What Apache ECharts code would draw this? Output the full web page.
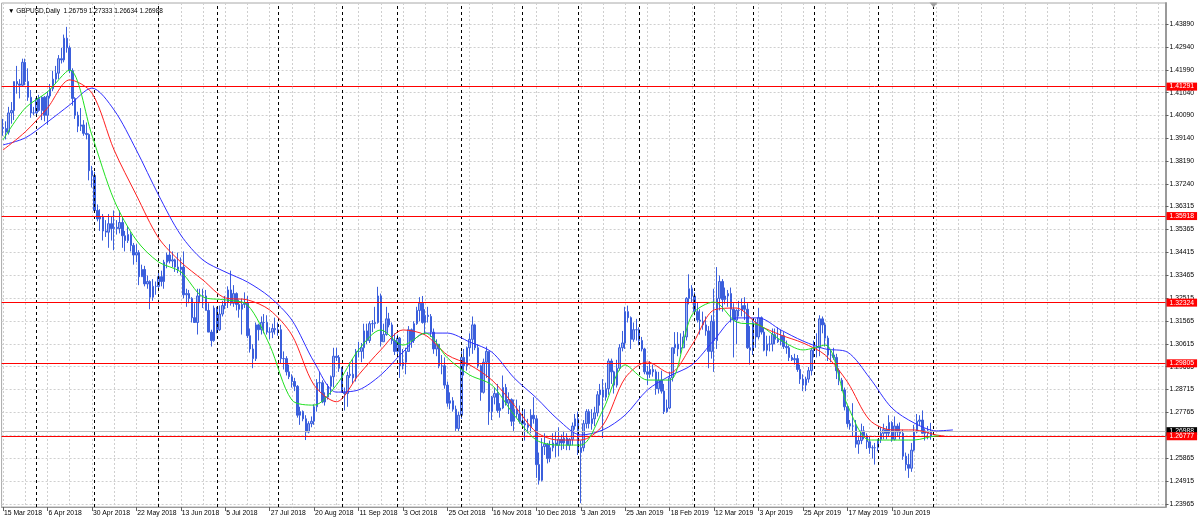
<!DOCTYPE html>
<html><head><meta charset="utf-8">
<script src="https://cdn.jsdelivr.net/npm/echarts@6/dist/echarts.min.js"></script>
<style>html,body{margin:0;padding:0;background:#fff}#c{width:1200px;height:523px}</style>
</head><body><div id="c"></div>
<script>
const symbolTitle = '\u25BC GBPUSD,Daily  1.26759 1.27333 1.26634 1.26988';
const startDate = '2018-03-15';
const holidays = ['2018-12-25', '2019-01-01'];
const opens = [
1.3960,1.3955,1.3940,1.4020,1.4030,1.4150,1.4140,1.4135,1.4230,1.4150,1.4085,1.4020,
1.4020,1.4080,1.4030,1.4085,1.4010,1.4090,1.4120,1.4160,1.4185,1.4245,1.4240,1.4330,1.4290,1.4195,1.4080,1.4010,1.3965,1.3970,1.3935,1.3930,1.3780,
1.3760,1.3615,1.3580,1.3590,1.3530,1.3525,1.3560,1.3540,1.3545,1.3540,1.3565,1.3510,1.3490,1.3515,1.3470,1.3430,1.3440,1.3340,1.3370,1.3310,1.3320,1.3255,1.3300,
1.3300,1.3340,1.3320,1.3400,1.3430,1.3405,1.3410,1.3380,1.3370,1.3380,1.3265,1.3270,1.3250,1.3170,1.3150,1.3260,1.3260,1.3260,1.3200,1.3110,1.3075,
1.3210,1.3120,1.3185,1.3220,1.3235,1.3285,1.3230,1.3270,1.3225,1.3205,1.3225,1.3230,1.3095,1.3040,1.3000,1.3140,1.3120,1.3150,1.3150,1.3110,1.3110,1.3125,
1.3120,1.3120,1.3000,1.3000,1.2945,1.2925,1.2905,1.2885,1.2765,1.2780,1.2750,1.2695,1.2730,1.2740,1.2800,1.2900,1.2900,1.2820,1.2840,1.2885,1.2925,1.3010,1.3005,
1.2960,1.2860,1.2855,1.2930,1.2935,1.2920,1.3030,1.3030,1.3045,1.3115,1.3075,1.3145,1.3145,1.3150,1.3260,1.3070,1.3100,1.3165,1.3140,1.3075,
1.3030,1.3085,1.2970,1.2985,1.3030,1.3120,1.3075,1.3145,1.3200,1.3230,1.3150,1.3180,1.3175,1.3110,1.3040,1.3060,1.2970,1.2970,1.2890,1.2815,1.2825,1.2790,1.2710,
1.2765,1.3005,1.2970,1.3045,1.3080,1.3140,1.3045,1.2970,1.2860,1.2985,1.3030,1.2780,1.2840,1.2855,1.2785,1.2795,1.2880,1.2815,1.2830,1.2740,1.2790,1.2770,
1.2740,1.2730,1.2725,1.2715,1.2765,1.2750,1.2560,1.2495,1.2635,1.2645,1.2585,1.2630,1.2650,1.2640,1.2665,1.2650,1.2670,1.2640,1.2665,1.2720,
1.2750,1.2610,1.2630,1.2730,1.2780,1.2730,1.2750,1.2775,1.2850,1.2870,1.2840,1.2875,1.2990,1.2945,1.2890,1.2960,1.3045,1.3065,1.3195,1.3170,1.3080,1.3120,
1.3120,1.3075,1.3040,1.2945,1.2935,1.2955,1.2945,1.2875,1.2910,1.2865,1.2780,1.2795,1.2920,1.3045,1.3060,1.3040,1.3045,1.3090,1.3250,1.3290,
1.3260,1.3195,1.3160,1.3155,1.3140,1.3115,1.3030,1.3155,1.3075,1.3250,1.3320,1.3245,1.3260,1.3270,1.3205,1.3160,1.3200,1.3200,1.3220,1.3205,1.3045,
1.3035,1.3150,1.3090,1.3170,1.3110,1.3035,1.3060,1.3060,1.3100,1.3080,1.3070,1.3095,1.3050,1.3045,1.3005,1.2995,1.3000,1.2955,1.2915,1.2890,1.2915,1.2950,
1.3035,1.3050,1.3045,1.3165,1.3140,1.3085,1.3015,1.3015,1.3005,1.2950,1.2910,1.2870,1.2800,1.2730,1.2720,1.2720,1.2645,1.2660,1.2700,1.2680,1.2655,1.2630,1.2630,
1.2630,1.2665,1.2690,1.2705,1.2690,1.2735,1.2665,1.2720,1.2695,1.2690,1.2595,1.2560,1.2545,1.2620,1.2695,1.2740,1.2745,1.2690,1.2700,1.26759];
const highs = [
1.3995,1.3985,1.4045,1.4065,1.4150,1.4215,1.4160,1.4245,1.4245,1.4205,1.4115,1.4045,
1.4085,1.4095,1.4090,1.4090,1.4110,1.4140,1.4195,1.4215,1.4260,1.4290,1.4345,1.4377,1.4300,1.4205,1.4085,1.4025,1.4040,1.3990,1.3980,1.3935,1.3800,
1.3775,1.3640,1.3620,1.3600,1.3575,1.3600,1.3590,1.3615,1.3575,1.3615,1.3585,1.3530,1.3550,1.3525,1.3480,1.3475,1.3450,1.3390,1.3385,1.3345,1.3325,1.3330,1.3320,
1.3365,1.3365,1.3410,1.3440,1.3475,1.3445,1.3415,1.3440,1.3420,1.3445,1.3290,1.3285,1.3255,1.3230,1.3290,1.3290,1.3290,1.3285,1.3230,1.3120,1.3220,
1.3215,1.3220,1.3240,1.3260,1.3300,1.3365,1.3305,1.3275,1.3245,1.3250,1.3275,1.3260,1.3125,1.3060,1.3150,1.3145,1.3175,1.3185,1.3180,1.3130,1.3145,1.3170,
1.3150,1.3140,1.3030,1.3010,1.2975,1.2935,1.2920,1.2890,1.2800,1.2785,1.2765,1.2740,1.2760,1.2810,1.2915,1.2945,1.2910,1.2860,1.2895,1.2930,1.3045,1.3045,1.3015,
1.2965,1.2880,1.2945,1.2985,1.3000,1.3040,1.3070,1.3065,1.3145,1.3145,1.3155,1.3160,1.3215,1.3298,1.3270,1.3145,1.3215,1.3190,1.3150,1.3105,
1.3100,1.3090,1.3040,1.3045,1.3135,1.3125,1.3155,1.3215,1.3255,1.3260,1.3205,1.3215,1.3185,1.3125,1.3080,1.3060,1.3015,1.3005,1.2905,1.2860,1.2840,1.2805,1.2780,
1.3030,1.3040,1.3050,1.3105,1.3175,1.3145,1.3060,1.2975,1.3000,1.3050,1.3030,1.2845,1.2880,1.2895,1.2815,1.2930,1.2895,1.2860,1.2835,1.2830,1.2830,1.2805,
1.2795,1.2790,1.2750,1.2790,1.2840,1.2765,1.2610,1.2670,1.2690,1.2650,1.2660,1.2690,1.2700,1.2715,1.2685,1.2700,1.2690,1.2670,1.2735,1.2770,
1.2780,1.2660,1.2745,1.2790,1.2790,1.2790,1.2800,1.2865,1.2895,1.2915,1.2900,1.3000,1.3000,1.2950,1.2995,1.3060,1.3115,1.3215,1.3220,1.3175,1.3150,1.3165,
1.3130,1.3090,1.3045,1.2970,1.2990,1.2975,1.2955,1.2945,1.2950,1.2895,1.2830,1.2945,1.3045,1.3110,1.3110,1.3105,1.3115,1.3255,1.3350,1.3305,
1.3275,1.3235,1.3205,1.3195,1.3175,1.3135,1.3180,1.3290,1.3380,1.3345,1.3330,1.3295,1.3285,1.3295,1.3230,1.3205,1.3240,1.3250,1.3255,1.3230,1.3135,
1.3165,1.3165,1.3210,1.3175,1.3130,1.3095,1.3095,1.3125,1.3125,1.3130,1.3120,1.3110,1.3075,1.3055,1.3015,1.3020,1.3015,1.2975,1.2935,1.2925,1.2965,1.3045,
1.3075,1.3105,1.3180,1.3175,1.3150,1.3095,1.3035,1.3045,1.3020,1.2960,1.2920,1.2880,1.2805,1.2745,1.2815,1.2745,1.2680,1.2730,1.2720,1.2690,1.2675,1.2640,1.2650,
1.2665,1.2715,1.2730,1.2720,1.2765,1.2740,1.2760,1.2730,1.2735,1.2705,1.2610,1.2605,1.2650,1.2725,1.2770,1.2765,1.2785,1.2710,1.2720,1.27333];
const lows = [
1.3925,1.3910,1.3930,1.3975,1.3990,1.4100,1.4080,1.4130,1.4135,1.4070,1.4000,1.4010,
1.4005,1.4025,1.3990,1.3985,1.3970,1.4080,1.4110,1.4140,1.4160,1.4225,1.4230,1.4270,1.4185,1.4050,1.3995,1.3940,1.3945,1.3925,1.3910,1.3740,1.3710,
1.3610,1.3570,1.3530,1.3490,1.3505,1.3460,1.3490,1.3450,1.3515,1.3520,1.3460,1.3445,1.3480,1.3445,1.3390,1.3400,1.3305,1.3340,1.3300,1.3290,1.3205,1.3240,1.3265,
1.3290,1.3300,1.3290,1.3375,1.3395,1.3380,1.3360,1.3355,1.3345,1.3250,1.3215,1.3230,1.3150,1.3150,1.3100,1.3230,1.3210,1.3200,1.3110,1.3050,1.3070,
1.3105,1.3115,1.3175,1.3205,1.3210,1.3220,1.3215,1.3200,1.3170,1.3100,1.3210,1.3085,1.3025,1.2960,1.2990,1.3075,1.3100,1.3105,1.3100,1.3080,1.3085,1.3100,
1.3095,1.2980,1.2955,1.2930,1.2915,1.2880,1.2865,1.2755,1.2725,1.2740,1.2662,1.2690,1.2715,1.2725,1.2780,1.2865,1.2815,1.2805,1.2830,1.2850,1.2880,1.2990,1.2945,
1.2860,1.2785,1.2800,1.2920,1.2895,1.2905,1.3005,1.2985,1.3000,1.3060,1.3065,1.3110,1.3125,1.3145,1.3050,1.3070,1.3095,1.3130,1.3060,1.3015,
1.3005,1.2920,1.2955,1.2935,1.3030,1.3045,1.3065,1.3140,1.3155,1.3145,1.3100,1.3150,1.3090,1.3020,1.3010,1.2960,1.2935,1.2875,1.2800,1.2790,1.2780,1.2700,1.2695,
1.2750,1.2930,1.2950,1.3010,1.3020,1.3035,1.2960,1.2825,1.2855,1.2920,1.2725,1.2745,1.2810,1.2775,1.2755,1.2790,1.2805,1.2770,1.2720,1.2700,1.2755,1.2730,
1.2725,1.2660,1.2690,1.2690,1.2730,1.2505,1.2477,1.2490,1.2600,1.2565,1.2570,1.2615,1.2590,1.2595,1.2620,1.2625,1.2620,1.2620,1.2640,1.2705,
1.2600,1.2400,1.2615,1.2710,1.2710,1.2705,1.2720,1.2760,1.2805,1.2670,1.2825,1.2850,1.2895,1.2855,1.2880,1.2950,1.3030,1.3040,1.3150,1.3040,1.3070,1.3075,
1.3055,1.3030,1.2935,1.2890,1.2920,1.2925,1.2850,1.2855,1.2855,1.2770,1.2775,1.2790,1.2905,1.3020,1.3010,1.3020,1.3045,1.3075,1.3225,1.3235,
1.3180,1.3150,1.3100,1.3120,1.3095,1.2960,1.3000,1.2945,1.3040,1.3200,1.3195,1.3225,1.3215,1.3150,1.3005,1.3060,1.3175,1.3175,1.3160,1.3040,1.2975,
1.3015,1.3045,1.3080,1.3100,1.3030,1.3010,1.3030,1.3030,1.3060,1.3065,1.3055,1.3040,1.3020,1.2990,1.2990,1.2975,1.2945,1.2895,1.2865,1.2865,1.2900,1.2930,
1.3005,1.3005,1.3010,1.3105,1.3050,1.2990,1.2985,1.2995,1.2915,1.2890,1.2865,1.2785,1.2715,1.2705,1.2675,1.2630,1.2605,1.2645,1.2665,1.2625,1.2605,1.2585,1.2560,
1.2615,1.2650,1.2665,1.2665,1.2675,1.2655,1.2660,1.2675,1.2665,1.2580,1.2535,1.2505,1.2530,1.2615,1.2690,1.2720,1.2690,1.2660,1.2665,1.26634];
const closes = [
1.3955,1.3940,1.4020,1.4030,1.4150,1.4140,1.4135,1.4230,1.4150,1.4085,1.4020,1.4020,
1.4080,1.4030,1.4085,1.4010,1.4090,1.4120,1.4160,1.4185,1.4245,1.4240,1.4330,1.4290,1.4195,1.4080,1.4010,1.3965,1.3970,1.3935,1.3930,1.3780,1.3760,
1.3615,1.3580,1.3590,1.3530,1.3525,1.3560,1.3540,1.3545,1.3540,1.3565,1.3510,1.3490,1.3515,1.3470,1.3430,1.3440,1.3340,1.3370,1.3310,1.3320,1.3255,1.3300,1.3300,
1.3340,1.3320,1.3400,1.3430,1.3405,1.3410,1.3380,1.3370,1.3380,1.3265,1.3270,1.3250,1.3170,1.3150,1.3260,1.3260,1.3260,1.3200,1.3110,1.3075,1.3210,
1.3120,1.3185,1.3220,1.3235,1.3285,1.3230,1.3270,1.3225,1.3205,1.3225,1.3230,1.3095,1.3040,1.3000,1.3140,1.3120,1.3150,1.3150,1.3110,1.3110,1.3125,1.3120,
1.3120,1.3000,1.3000,1.2945,1.2925,1.2905,1.2885,1.2765,1.2780,1.2750,1.2695,1.2730,1.2740,1.2800,1.2900,1.2900,1.2820,1.2840,1.2885,1.2925,1.3010,1.3005,1.2960,
1.2860,1.2855,1.2930,1.2935,1.2920,1.3030,1.3030,1.3045,1.3115,1.3075,1.3145,1.3145,1.3150,1.3260,1.3070,1.3100,1.3165,1.3140,1.3075,1.3030,
1.3085,1.2970,1.2985,1.3030,1.3120,1.3075,1.3145,1.3200,1.3230,1.3150,1.3180,1.3175,1.3110,1.3040,1.3060,1.2970,1.2970,1.2890,1.2815,1.2825,1.2790,1.2710,1.2765,
1.3005,1.2970,1.3045,1.3080,1.3140,1.3045,1.2970,1.2860,1.2985,1.3030,1.2780,1.2840,1.2855,1.2785,1.2795,1.2880,1.2815,1.2830,1.2740,1.2790,1.2770,1.2740,
1.2730,1.2725,1.2715,1.2765,1.2750,1.2560,1.2495,1.2635,1.2645,1.2585,1.2630,1.2650,1.2640,1.2665,1.2650,1.2670,1.2640,1.2665,1.2720,1.2750,
1.2610,1.2630,1.2730,1.2780,1.2730,1.2750,1.2775,1.2850,1.2870,1.2840,1.2875,1.2990,1.2945,1.2890,1.2960,1.3045,1.3065,1.3195,1.3170,1.3080,1.3120,1.3120,
1.3075,1.3040,1.2945,1.2935,1.2955,1.2945,1.2875,1.2910,1.2865,1.2780,1.2795,1.2920,1.3045,1.3060,1.3040,1.3045,1.3090,1.3250,1.3290,1.3260,
1.3195,1.3160,1.3155,1.3140,1.3115,1.3030,1.3155,1.3075,1.3250,1.3320,1.3245,1.3260,1.3270,1.3205,1.3160,1.3200,1.3200,1.3220,1.3205,1.3045,1.3035,
1.3150,1.3090,1.3170,1.3110,1.3035,1.3060,1.3060,1.3100,1.3080,1.3070,1.3095,1.3050,1.3045,1.3005,1.2995,1.3000,1.2955,1.2915,1.2890,1.2915,1.2950,1.3035,
1.3050,1.3045,1.3165,1.3140,1.3085,1.3015,1.3015,1.3005,1.2950,1.2910,1.2870,1.2800,1.2730,1.2720,1.2720,1.2645,1.2660,1.2700,1.2680,1.2655,1.2630,1.2630,1.2630,
1.2665,1.2690,1.2705,1.2690,1.2735,1.2665,1.2720,1.2695,1.2690,1.2595,1.2560,1.2545,1.2620,1.2695,1.2740,1.2745,1.2690,1.2700,1.2690,1.26988];

// Alligator lines, read every 8 bars; last value = end of the shifted line
const maStep = 8;
const jawEnd = 342, teethEnd = 339, lipsEnd = 337;
const jaw = [1.3887,1.3916,1.3982,1.4053,1.4123,1.4032,1.3866,1.3679,1.3513,1.3409,1.3360,1.3318,1.3256,1.3160,1.2986,1.2861,1.2870,1.2932,1.3027,1.3106,1.3106,1.3069,1.3027,1.2920,1.2837,1.2745,1.2683,1.2704,1.2766,1.2870,1.2928,1.2974,1.3077,1.3169,1.3169,1.3119,1.3073,1.3040,1.3027,1.2920,1.2795,1.2733,1.2700,1.2704];
const teeth = [1.3866,1.3941,1.4040,1.4157,1.4103,1.3866,1.3679,1.3501,1.3401,1.3326,1.3252,1.3244,1.3202,1.3098,1.2890,1.2821,1.2932,1.3036,1.3119,1.3098,1.3015,1.2974,1.2911,1.2807,1.2695,1.2662,1.2662,1.2724,1.2920,1.2986,1.2940,1.3056,1.3202,1.3210,1.3140,1.3098,1.3065,1.3015,1.2903,1.2745,1.2704,1.2704,1.2683,1.2679];
const lips = [1.3908,1.4040,1.4107,1.4198,1.3928,1.3658,1.3492,1.3401,1.3360,1.3256,1.3244,1.3223,1.3056,1.2828,1.2807,1.2890,1.3036,1.3119,1.3056,1.3106,1.3003,1.2932,1.2890,1.2766,1.2662,1.2641,1.2641,1.2787,1.2974,1.2911,1.2911,1.3181,1.3235,1.3152,1.3140,1.3077,1.3036,1.3056,1.2807,1.2662,1.2662,1.2662,1.2679,1.2679];

const priceTicks = [1.43890,1.42940,1.41990,1.41040,1.40090,1.39140,1.38190,1.37240,1.36315,1.35365,1.34415,1.33465,1.32515,1.31565,1.30615,1.29665,1.28715,1.27765,1.26815,1.25865,1.24915,1.23965];
const levelLines = [1.41291, 1.35918, 1.32324, 1.29805, 1.26777];
const bidPrice = 1.26988;

// ---- build categories (trading days) ----
const MON = ['Jan','Feb','Mar','Apr','May','Jun','Jul','Aug','Sep','Oct','Nov','Dec'];
const dates = [];
{ let d = new Date(startDate + 'T00:00:00Z');
  while (dates.length < opens.length) {
    const iso = d.toISOString().slice(0,10), dow = d.getUTCDay();
    if (dow !== 0 && dow !== 6 && holidays.indexOf(iso) < 0) dates.push(new Date(d));
    d.setUTCDate(d.getUTCDate() + 1);
  } }
const SLOTS = 419;
const cats = [];
for (let i = 0; i < SLOTS; i++) {
  cats.push(i < dates.length ? (dates[i].getUTCDate() + ' ' + MON[dates[i].getUTCMonth()] + ' ' + dates[i].getUTCFullYear()) : ('f' + i));
}
const monthStarts = [];
for (let i = 1; i < dates.length; i++) if (dates[i].getUTCMonth() !== dates[i-1].getUTCMonth()) monthStarts.push(i);
monthStarts.push(dates.length);

const candleData = opens.map((o, i) => [o, closes[i], lows[i], highs[i]]);
function maSeries(vals, endIdx) { return vals.map((v, k) => [k < vals.length - 1 ? k * maStep : endIdx, v]); }

const FONT = 'Liberation Sans';
const Y_MIN = 1.238405, Y_MAX = 1.447617;
const labelEvery = i => i % 16 === 0 && i < dates.length - 10;
function levelSeries(v) {
  return { type: 'line', data: [], silent: true, z: 6,
    markLine: { symbol: 'none', silent: true, animation: false, precision: 5,
      lineStyle: { color: '#ff0000', type: 'solid', width: 1 },
      label: { show: true, position: 'end', formatter: v.toFixed(5), backgroundColor: '#ff0000', color: '#ffffff', padding: [1, 3, 0, 3], fontSize: 6.8, fontFamily: FONT, distance: 1 },
      data: [{ yAxis: v }] } };
}
const chart = echarts.init(document.getElementById('c'), null, {renderer: 'canvas'});
chart.setOption({
  animation: false,
  backgroundColor: '#ffffff',
  title: { text: symbolTitle, left: 3, top: 3, textStyle: { fontSize: 6.5, fontWeight: 'normal', color: '#000', fontFamily: FONT } },
  grid: { left: 1.6, top: 3, width: 1163.9, height: 504, show: true, borderColor: '#a8a8a8', borderWidth: 1 },
  xAxis: {
    type: 'category', data: cats, boundaryGap: true,
    axisLine: { show: true, lineStyle: { color: '#9a9a9a', width: 1 } },
    axisTick: { show: true, alignWithLabel: true, interval: labelEvery, length: 4, lineStyle: { color: '#606060' } },
    axisLabel: { interval: labelEvery, align: 'left', margin: 3, fontSize: 6.8, color: '#000', fontFamily: FONT, padding: [0,0,0,1] },
    splitLine: { show: true, alignWithLabel: true, interval: i => i % 8 === 0, lineStyle: { color: '#cfcfcf', type: [2, 2], width: 1 } }
  },
  yAxis: {
    type: 'value', position: 'right', min: Y_MIN, max: Y_MAX, scale: true,
    axisLine: { show: true, lineStyle: { color: '#9a9a9a', width: 2 } },
    axisTick: { show: true, customValues: priceTicks, length: 3, lineStyle: { color: '#606060' } },
    axisLabel: { customValues: priceTicks, formatter: v => v.toFixed(5), fontSize: 6.8, color: '#000', margin: 4, fontFamily: FONT },
    splitLine: { show: true, lineStyle: { color: '#cfcfcf', type: [2, 2], width: 1 } }
  },
  series: [
    { type: 'line', data: [], silent: true,
      markLine: { symbol: 'none', silent: true, animation: false, precision: 5,
        lineStyle: { color: '#000', type: [3, 3], width: 1 }, label: { show: false },
        data: monthStarts.map(i => ({ xAxis: i })) },
      markPoint: { silent: true, animation: false, symbol: 'triangle', symbolRotate: 180, symbolSize: [8, 5], symbolOffset: [0, 2],
        itemStyle: { color: '#a0a0a0' }, label: { show: false },
        data: [{ coord: [dates.length, Y_MAX] }] } },
    { type: 'line', data: [], silent: true, z: 3,
      markLine: { symbol: 'none', silent: true, animation: false, precision: 5,
        lineStyle: { color: '#c0c0c0', type: 'solid', width: 1 },
        label: { show: true, position: 'end', formatter: bidPrice.toFixed(5), backgroundColor: '#000', color: '#fff', padding: [1, 3, 0, 3], fontSize: 6.8, fontFamily: FONT, distance: 1 },
        data: [{ yAxis: bidPrice }] } },
    { type: 'candlestick', data: candleData, barWidth: 2, z: 4,
      itemStyle: { color: '#9fb2ef', color0: '#3b5fdc', borderColor: '#3b5fdc', borderColor0: '#3b5fdc', borderWidth: 1 } },
    { type: 'line', data: maSeries(jaw, jawEnd), symbol: 'none', smooth: 0.3, z: 5, lineStyle: { color: '#2f2fff', width: 1 } },
    { type: 'line', data: maSeries(teeth, teethEnd), symbol: 'none', smooth: 0.3, z: 5, lineStyle: { color: '#ff2020', width: 1 } },
    { type: 'line', data: maSeries(lips, lipsEnd), symbol: 'none', smooth: 0.3, z: 5, lineStyle: { color: '#20e020', width: 1 } }
  ].concat(levelLines.map(levelSeries))
});
</script></body></html>
